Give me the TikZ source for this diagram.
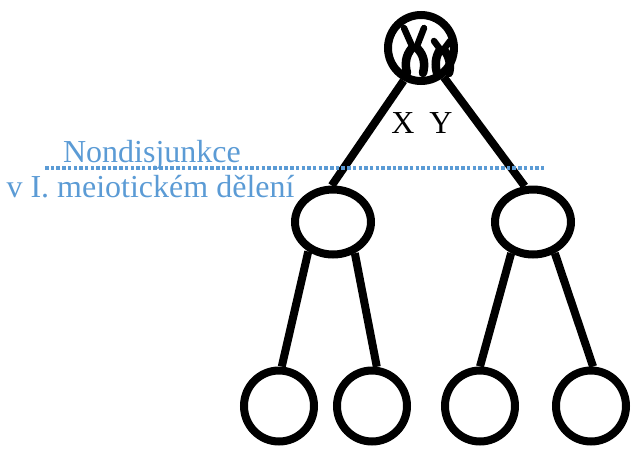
\documentclass[tikz,border=0pt]{standalone}
\usepackage{fontspec}
\setmainfont{Liberation Serif}
\usetikzlibrary{shapes.geometric}
\definecolor{nblue}{RGB}{91,155,213}
\begin{document}
\begin{tikzpicture}[x=1pt,y=-1pt,
  cell/.style={draw=black,line width=8pt,ellipse,inner sep=0pt},
  link/.style={draw=black,line width=8pt},
  arm/.style={draw=black,line width=6.5pt,line cap=round},
  leg/.style={draw=black,line width=8.5pt,line cap=round},
  big/.style={font=\fontsize{32}{34}\selectfont,inner sep=0pt,anchor=base},
  lbl/.style={big,text=nblue}]
\useasboundingbox (0,0) rectangle (633,451);
% cells
\node[cell,minimum width=66pt,minimum height=66pt] (z) at (421,48) {};
\node[cell,minimum width=76pt,minimum height=65pt] (a) at (333,222) {};
\node[cell,minimum width=76pt,minimum height=65pt] (b) at (533,222) {};
\node[cell,minimum width=70pt,minimum height=71pt] (a1) at (279,406) {};
\node[cell,minimum width=70pt,minimum height=71pt] (a2) at (372,406) {};
\node[cell,minimum width=70pt,minimum height=71pt] (b1) at (480,406) {};
\node[cell,minimum width=70pt,minimum height=71pt] (b2) at (591,406) {};
% connectors
\draw[link] (z.242) -- (a.92);
\draw[link] (z.308) -- (b.103);
\draw[link] (a.230) -- (a1.86);
\draw[link] (a.305) -- (a2.83);
\draw[link] (b.235) -- (b1.90);
\draw[link] (b.305) -- (b2.87);
% large chromosome
\draw[arm] (404,28) -- (412,46);
\draw[arm] (424,28) -- (417,46);
\draw[leg] (412,48) .. controls (405,56) and (405,65) .. (407,73);
\draw[leg] (417,48) .. controls (425,56) and (425,65) .. (423,73);
% small chromosome
\draw[arm] (434,41) -- (440,49);
\draw[arm] (450,41) -- (444,49);
\draw[leg] (440,50) .. controls (435,57) and (435,66) .. (437,73);
\draw[leg] (444,50) .. controls (450,57) and (451,66) .. (449,73);
% sex chromosome labels
\node[big] (x) at (403,133) {X};
\node[big] (y) at (441,133) {Y};
% nondisjunction marker
\coordinate (d1) at (45,168);
\coordinate (d2) at (545,168);
\draw[nblue,line width=3.5pt,dash pattern=on 3.5pt off 2.2pt] (d1) -- (d2);
\node[lbl] (t1) at (152,162) {Nondisjunkce};
\node[lbl] (t2) at (150.5,197) {v I. meiotickém dělení};
\end{tikzpicture}
\end{document}
